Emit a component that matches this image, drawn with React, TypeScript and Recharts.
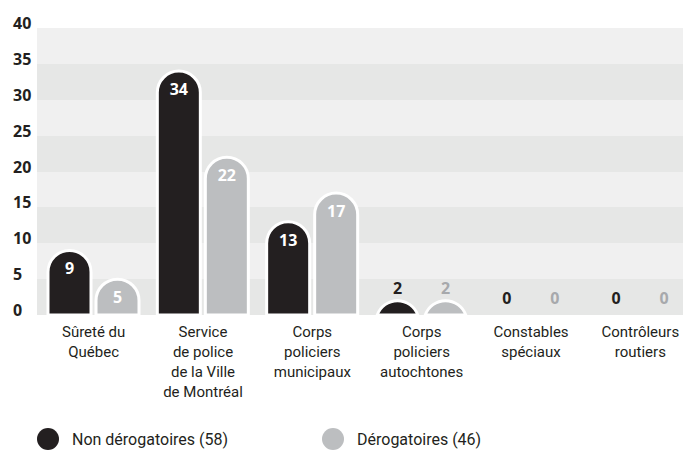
import { BarChart, Bar, XAxis, YAxis, CartesianGrid, LabelList } from 'recharts'

const categories = [
  'Sûreté du\nQuébec',
  'Service\nde police\nde la Ville\nde Montréal',
  'Corps\npoliciers\nmunicipaux',
  'Corps\npoliciers\nautochtones',
  'Constables\nspéciaux',
  'Contrôleurs\nroutiers',
]
const nonDerogatoires = [9, 34, 13, 2, 0, 0]
const derogatoires = [5, 22, 17, 2, 0, 0]
const yTicks = [0, 5, 10, 15, 20, 25, 30, 35, 40]
const seriesNames = ['Non dérogatoires (58)', 'Dérogatoires (46)']

const DARK = '#231f20'
const GREY = '#bcbec0'
const GREY_TEXT = '#a7a9ac'
const FONT = 'Roboto, "Open Sans", sans-serif'
const NUM_FONT = '"Open Sans", "Noto Sans", sans-serif'

const data = categories.map((name, i) => ({
  name,
  non: nonDerogatoires[i],
  der: derogatoires[i],
}))

// bar with a fully rounded top; short bars become a clipped dome
function PillBar(props: any) {
  const { x, y, width, height, fill } = props
  if (!height || height <= 0) return null
  const r = width / 2
  let d: string
  if (height >= r) {
    d = `M${x},${y + height} L${x},${y + r} A${r},${r} 0 0 1 ${x + width},${y + r} L${x + width},${y + height} Z`
  } else {
    const hw = Math.sqrt(r * r - (r - height) * (r - height))
    const cx = x + width / 2
    d = `M${cx - hw},${y + height} A${r},${r} 0 0 1 ${cx + hw},${y + height} Z`
  }
  return <path d={d} fill={fill} stroke="#fff" strokeWidth={3} />
}

function makeLabel(smallColor: string) {
  return (props: any) => {
    const { x, y, width, value } = props
    const cx = x + width / 2
    if (value > 2) {
      return (
        <text x={cx} y={y + 24} textAnchor="middle" fill="#fff" fontFamily={NUM_FONT} fontWeight={700} fontSize={16}>
          {value}
        </text>
      )
    }
    const ty = value === 0 ? y - 11 : y - 7
    return (
      <text x={cx} y={ty} textAnchor="middle" fill={smallColor} fontFamily={NUM_FONT} fontWeight={700} fontSize={16}>
        {value}
      </text>
    )
  }
}

function CategoryTick(props: any) {
  const { x, y, payload } = props
  const lines = String(payload.value).split('\n')
  return (
    <text x={x} y={y + 14} textAnchor="middle" fill={DARK} fontFamily={FONT} fontSize={15}>
      {lines.map((line, i) => (
        <tspan key={i} x={x} dy={i === 0 ? 0 : 20}>
          {line}
        </tspan>
      ))}
    </text>
  )
}

function ValueTick(props: any) {
  const { y, payload } = props
  return (
    <text x={13} y={y + 1} textAnchor="start" fill={DARK} fontFamily={NUM_FONT} fontWeight={700} fontSize={16}>
      {payload.value}
    </text>
  )
}

export default function App() {
  return (
    <div style={{ position: 'absolute', left: 0, top: 0, width: 693, height: 452, background: '#fff' }}>
      <BarChart
        width={693}
        height={452}
        data={data}
        margin={{ top: 28, right: 10, bottom: 0, left: 0 }}
        barSize={43}
        barGap={5}
      >
        <CartesianGrid vertical={false} stroke="none" horizontalFill={['#f0f0f0', '#e6e7e6']} />
        <XAxis
          dataKey="name"
          axisLine={false}
          tickLine={false}
          interval={0}
          height={137}
          padding={{ left: 2, right: -12 }}
          tick={<CategoryTick />}
        />
        <YAxis
          domain={[0, 40]}
          ticks={yTicks}
          width={37}
          axisLine={false}
          tickLine={false}
          tick={<ValueTick />}
        />
        <Bar dataKey="non" name={seriesNames[0]} fill={DARK} shape={<PillBar />} isAnimationActive={false}>
          <LabelList dataKey="non" content={makeLabel(DARK)} />
        </Bar>
        <Bar dataKey="der" name={seriesNames[1]} fill={GREY} shape={<PillBar />} isAnimationActive={false}>
          <LabelList dataKey="der" content={makeLabel(GREY_TEXT)} />
        </Bar>
      </BarChart>
      {/* legend */}
      {[DARK, GREY].map((color, i) => (
        <div
          key={seriesNames[i]}
          style={{
            position: 'absolute',
            top: 428,
            left: i === 0 ? 37 : 322,
            display: 'flex',
            alignItems: 'center',
            fontFamily: FONT,
            fontSize: 16,
            color: DARK,
          }}
        >
          <div style={{ width: 22, height: 22, borderRadius: 11, background: color, marginRight: 13 }} />
          <span>{seriesNames[i]}</span>
        </div>
      ))}
    </div>
  )
}
